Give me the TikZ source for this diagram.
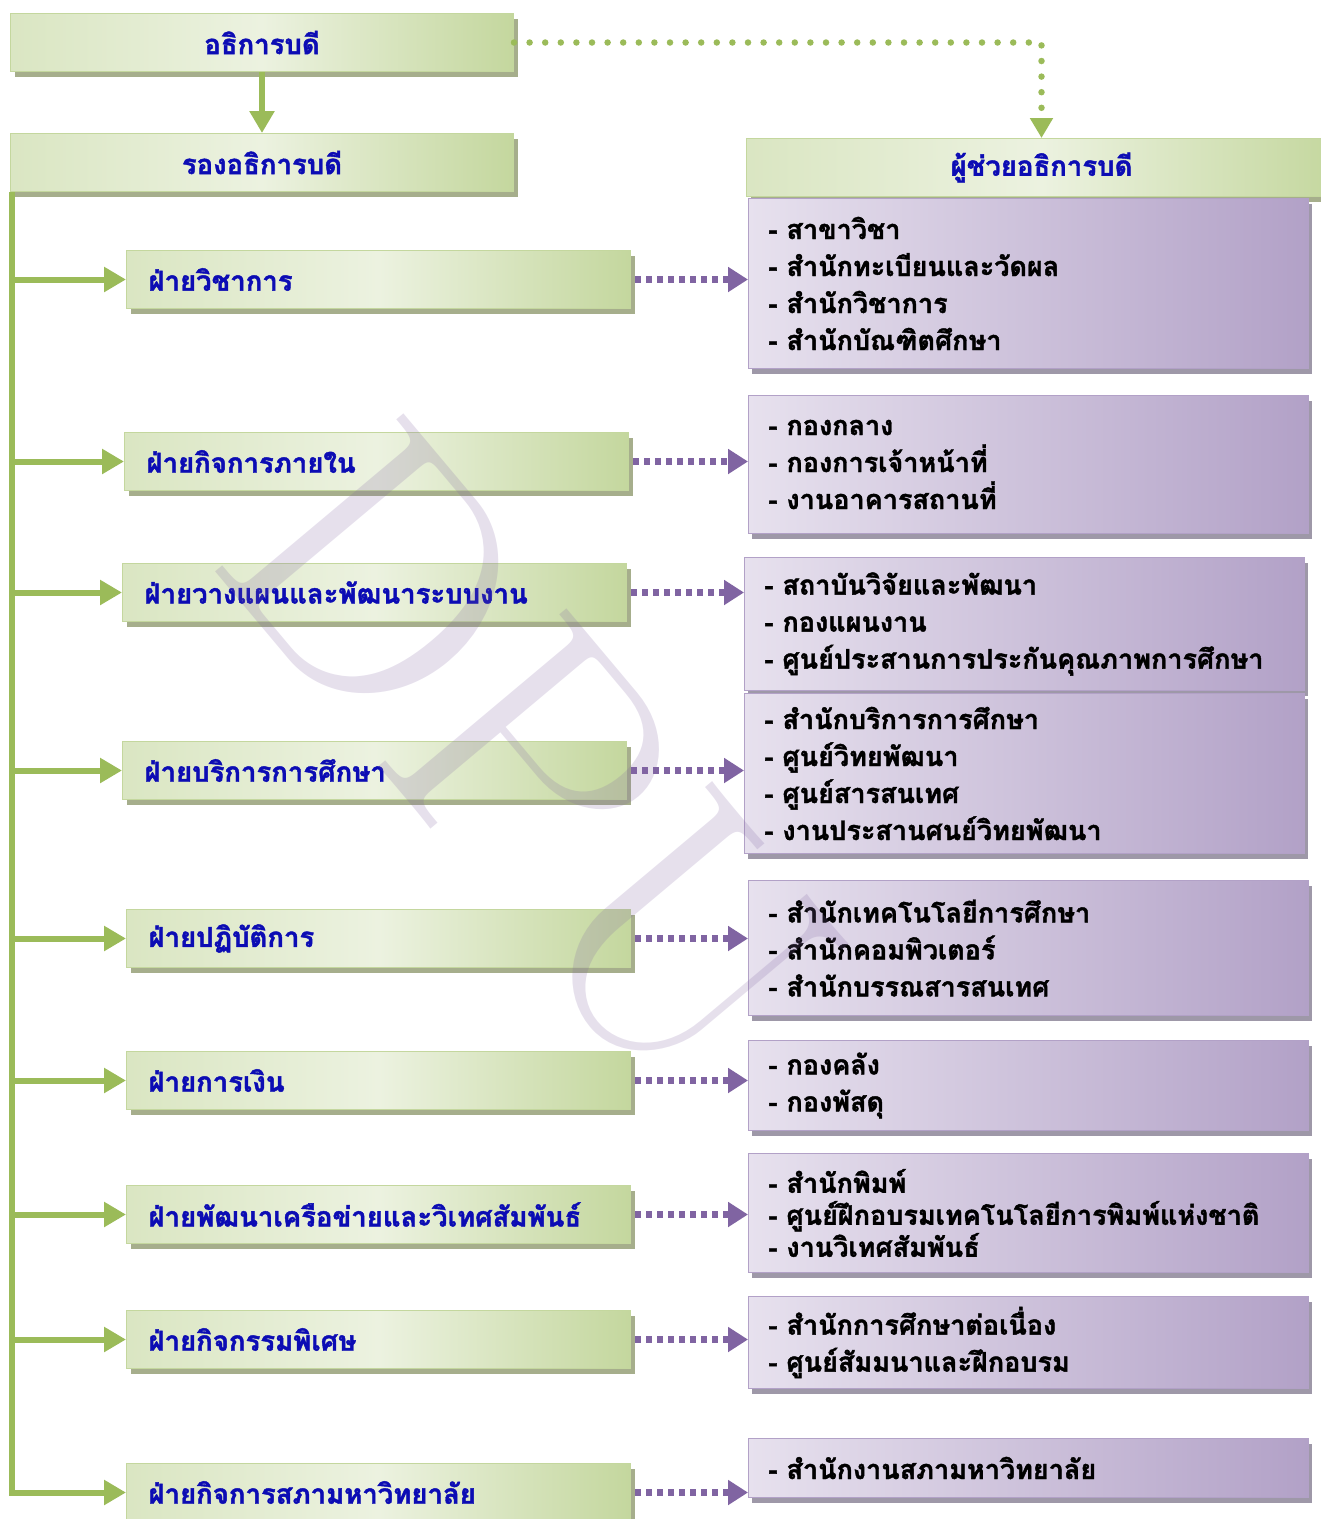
\documentclass[tikz,border=0pt]{standalone}
\usepackage{fontspec}
\newfontfamily\thaifont[Script=Thai,BoldFeatures={FakeBold=1.5}]{Loma}
\usetikzlibrary{arrows.meta,shadows}
\definecolor{lineGreen}{RGB}{155,187,89}
\definecolor{boxGreenD}{RGB}{196,215,158}
\definecolor{boxGreenL}{RGB}{236,242,224}
\definecolor{shadowGreen}{RGB}{166,174,140}
\definecolor{linePurple}{RGB}{128,100,162}
\definecolor{boxPurpleD}{RGB}{178,161,199}
\definecolor{boxPurpleL}{RGB}{231,225,238}
\definecolor{shadowPurple}{RGB}{158,152,168}
\definecolor{titleBlue}{RGB}{12,12,180}
\tikzset{
  greenbox/.style={draw=boxGreenD,line width=1pt,left color=boxGreenL!55!boxGreenD,right color=boxGreenD,middle color=boxGreenL,
    general shadow={fill=shadowGreen,shadow xshift=4pt,shadow yshift=-5pt},
    text=titleBlue,font=\thaifont\bfseries\fontsize{27.5}{30}\selectfont,anchor=north west,minimum height=58pt},
  topbox/.style={greenbox,inner sep=0pt},
  divbox/.style={greenbox,text width=460pt,inner xsep=22pt,inner ysep=0pt,align=left},
  unitbox/.style={draw=boxPurpleD,line width=1pt,left color=boxPurpleL,right color=boxPurpleD,
    general shadow={fill=shadowPurple,shadow xshift=3pt,shadow yshift=-5pt},
    font=\thaifont\bfseries\fontsize{27}{37}\selectfont,text width=520pt,inner xsep=20pt,inner ysep=0pt,
    align=left,anchor=north west,minimum width=560pt},
  greenArrow/.style={lineGreen,line width=6pt,-{Triangle[width=24pt,length=22pt]}},
  greenDots/.style={lineGreen,line width=6.5pt,line cap=round,dash pattern=on 0pt off 15.6pt,-{Triangle[width=22pt,length=20pt]}},
  purpleDots/.style={linePurple,line width=6.5pt,dash pattern=on 6pt off 5pt,shorten <=4pt,-{Triangle[width=24pt,length=20pt]}}
}
\begin{document}
\begin{tikzpicture}[x=1pt,y=-1pt]
\path[use as bounding box] (0,0) rectangle (1321,1519);

\node[topbox,minimum width=503pt] (pres) at (10,13) {อธิการบดี};
\node[topbox,minimum width=503pt] (vp) at (10,133) {รองอธิการบดี};
\node[topbox,minimum width=590pt] (asst) at (746,138) {ผู้ช่วยอธิการบดี};

\node[divbox] (acad) at (126,250) {ฝ่ายวิชาการ};
\node[divbox] (internal) at (124,432) {ฝ่ายกิจการภายใน};
\node[divbox] (plan) at (122,563) {ฝ่ายวางแผนและพัฒนาระบบงาน};
\node[divbox] (service) at (122,741) {ฝ่ายบริการการศึกษา};
\node[divbox] (ops) at (126,909) {ฝ่ายปฏิบัติการ};
\node[divbox] (finance) at (126,1051) {ฝ่ายการเงิน};
\node[divbox] (network) at (126,1185) {ฝ่ายพัฒนาเครือข่ายและวิเทศสัมพันธ์};
\node[divbox] (special) at (126,1310) {ฝ่ายกิจกรรมพิเศษ};
\node[divbox] (council) at (126,1463) {ฝ่ายกิจการสภามหาวิทยาลัย};

\node[unitbox,minimum height=170pt] (acadUnits) at (748,198) {- สาขาวิชา\\- สำนักทะเบียนและวัดผล\\- สำนักวิชาการ\\- สำนักบัณฑิตศึกษา};
\node[unitbox,minimum height=138pt] (internalUnits) at (748,395) {- กองกลาง\\- กองการเจ้าหน้าที่\\- งานอาคารสถานที่};
\node[unitbox,minimum height=133pt] (planUnits) at (744,557) {- สถาบันวิจัยและพัฒนา\\- กองแผนงาน\\- ศูนย์ประสานการประกันคุณภาพการศึกษา};
\node[unitbox,minimum height=160pt] (serviceUnits) at (744,693) {- สำนักบริการการศึกษา\\- ศูนย์วิทยพัฒนา\\- ศูนย์สารสนเทศ\\- งานประสานศนย์วิทยพัฒนา};
\node[unitbox,minimum height=135pt] (opsUnits) at (748,880) {- สำนักเทคโนโลยีการศึกษา\\- สำนักคอมพิวเตอร์\\- สำนักบรรณสารสนเทศ};
\node[unitbox,minimum height=90pt] (financeUnits) at (748,1040) {- กองคลัง\\- กองพัสดุ};
\node[unitbox,minimum height=119pt,font=\thaifont\bfseries\fontsize{27}{32}\selectfont] (networkUnits) at (748,1153) {- สำนักพิมพ์\\- ศูนย์ฝึกอบรมเทคโนโลยีการพิมพ์แห่งชาติ\\- งานวิเทศสัมพันธ์};
\node[unitbox,minimum height=92pt] (specialUnits) at (748,1296) {- สำนักการศึกษาต่อเนื่อง\\- ศูนย์สัมมนาและฝึกอบรม};
\node[unitbox,minimum height=59pt] (councilUnits) at (748,1438) {- สำนักงานสภามหาวิทยาลัย};

\draw[greenArrow] (pres) -- (vp);
\draw[greenDots] (pres.east) -| (asst.north);

\coordinate (trunk) at ([xshift=2pt]vp.south west);
\draw[greenArrow] (trunk) |- (council.west);
\draw[greenArrow] (trunk |- acad.west) -- (acad.west);
\draw[greenArrow] (trunk |- internal.west) -- (internal.west);
\draw[greenArrow] (trunk |- plan.west) -- (plan.west);
\draw[greenArrow] (trunk |- service.west) -- (service.west);
\draw[greenArrow] (trunk |- ops.west) -- (ops.west);
\draw[greenArrow] (trunk |- finance.west) -- (finance.west);
\draw[greenArrow] (trunk |- network.west) -- (network.west);
\draw[greenArrow] (trunk |- special.west) -- (special.west);

\draw[purpleDots] (acad.east) -- (acad.east -| acadUnits.west);
\draw[purpleDots] (internal.east) -- (internal.east -| internalUnits.west);
\draw[purpleDots] (plan.east) -- (plan.east -| planUnits.west);
\draw[purpleDots] (service.east) -- (service.east -| serviceUnits.west);
\draw[purpleDots] (ops.east) -- (ops.east -| opsUnits.west);
\draw[purpleDots] (finance.east) -- (finance.east -| financeUnits.west);
\draw[purpleDots] (network.east) -- (network.east -| networkUnits.west);
\draw[purpleDots] (special.east) -- (special.east -| specialUnits.west);
\draw[purpleDots] (council.east) -- (council.east -| councilUnits.west);

% watermark
\node[text=linePurple,opacity=0.2,rotate=-50,font=\fontsize{360}{360}\selectfont] (mark) at (530,760) {DPU};
\end{tikzpicture}
\end{document}
